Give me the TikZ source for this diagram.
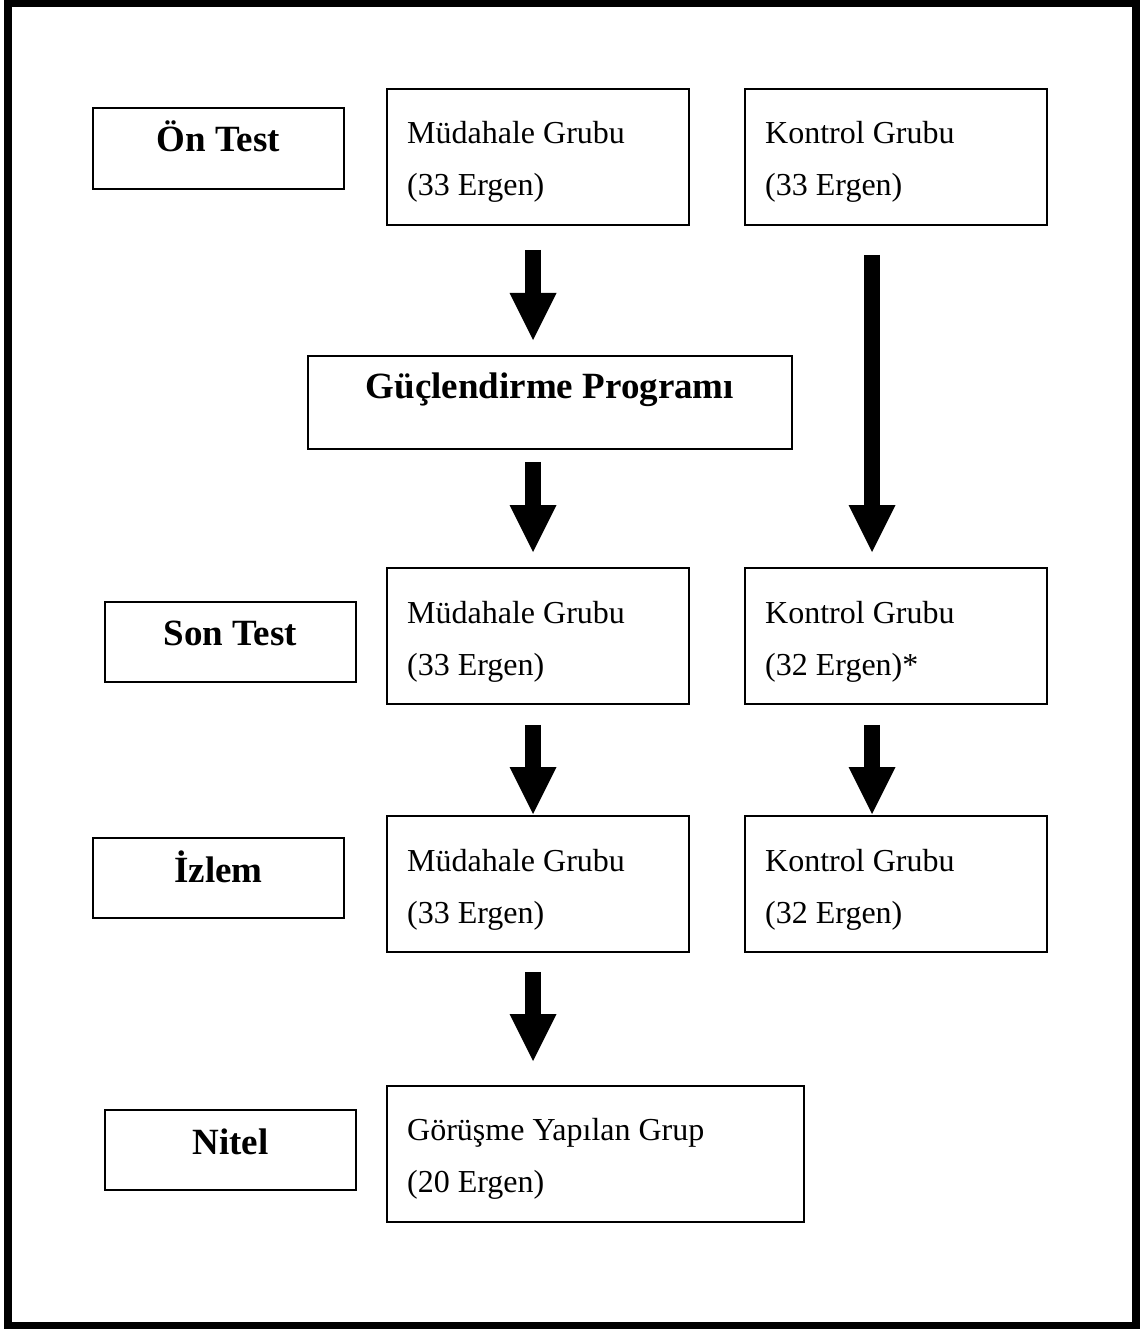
\documentclass[tikz,border=0pt]{standalone}
\usepackage{fontspec}
\setmainfont{Liberation Serif}
\usetikzlibrary{arrows.meta}
\begin{document}
\begin{tikzpicture}[x=1pt,y=-1pt,
  box/.style={draw, line width=1.8pt, inner sep=0pt, anchor=north west},
  txt/.style={inner sep=0pt, anchor=base west, font=\fontsize{32pt}{38pt}\selectfont},
  btxt/.style={inner sep=0pt, anchor=base, font=\fontsize{37pt}{44pt}\selectfont\bfseries},
  bigarrow/.style={line width=16pt, -{Triangle[length=47pt,width=47pt,line width=0pt]}}]
\useasboundingbox (0,0) rectangle (1143,1329);
\draw[line width=8pt] (7.5,3.5) rectangle (1136,1325.5);
\coordinate (colL) at (533,0);
\coordinate (colR) at (872,0);
% boxes
\node[box, minimum width=251pt, minimum height=81pt] (on) at (92,107) {};
\node[box, minimum width=302pt, minimum height=136pt] (m1) at (386,88) {};
\node[box, minimum width=302pt, minimum height=136pt] (k1) at (744,88) {};
\node[box, minimum width=484pt, minimum height=93pt] (gp) at (307,355) {};
\node[box, minimum width=251pt, minimum height=80pt] (son) at (104,601) {};
\node[box, minimum width=302pt, minimum height=136pt] (m2) at (386,567) {};
\node[box, minimum width=302pt, minimum height=136pt] (k2) at (744,567) {};
\node[box, minimum width=251pt, minimum height=80pt] (izl) at (92,837) {};
\node[box, minimum width=302pt, minimum height=136pt] (m3) at (386,815) {};
\node[box, minimum width=302pt, minimum height=136pt] (k3) at (744,815) {};
\node[box, minimum width=251pt, minimum height=80pt] (nit) at (104,1109) {};
\node[box, minimum width=417pt, minimum height=136pt] (gor) at (386,1085) {};
% bold labels
\node[btxt] (onT) at ([shift={(0,45)}]on.north) {Ön Test};
\node[btxt] (gpT) at ([shift={(0,43)}]gp.north) {Güçlendirme Programı};
\node[btxt] (sonT) at ([shift={(0,44)}]son.north) {Son Test};
\node[btxt] (izlT) at ([shift={(0,45)}]izl.north) {İzlem};
\node[btxt] (nitT) at ([shift={(0,45)}]nit.north) {Nitel};
% group texts
\node[txt] (m1a) at ([shift={(21,56)}]m1.north west) {Müdahale Grubu};
\node[txt] (m1b) at ([shift={(21,108)}]m1.north west) {(33 Ergen)};
\node[txt] (k1a) at ([shift={(21,56)}]k1.north west) {Kontrol Grubu};
\node[txt] (k1b) at ([shift={(21,108)}]k1.north west) {(33 Ergen)};
\node[txt] (m2a) at ([shift={(21,56)}]m2.north west) {Müdahale Grubu};
\node[txt] (m2b) at ([shift={(21,108)}]m2.north west) {(33 Ergen)};
\node[txt] (k2a) at ([shift={(21,56)}]k2.north west) {Kontrol Grubu};
\node[txt] (k2b) at ([shift={(21,108)}]k2.north west) {(32 Ergen)*};
\node[txt] (m3a) at ([shift={(21,56)}]m3.north west) {Müdahale Grubu};
\node[txt] (m3b) at ([shift={(21,108)}]m3.north west) {(33 Ergen)};
\node[txt] (k3a) at ([shift={(21,56)}]k3.north west) {Kontrol Grubu};
\node[txt] (k3b) at ([shift={(21,108)}]k3.north west) {(32 Ergen)};
\node[txt] (gora) at ([shift={(21,55)}]gor.north west) {Görüşme Yapılan Grup};
\node[txt] (gorb) at ([shift={(21,107)}]gor.north west) {(20 Ergen)};
% arrows
\draw[bigarrow, shorten <=24pt, shorten >=15pt] (m1.south -| colL) -- (gp.north -| colL);
\draw[bigarrow, shorten <=12pt, shorten >=15pt] (gp.south -| colL) -- (m2.north -| colL);
\draw[bigarrow, shorten <=29pt, shorten >=15pt] (k1.south -| colR) -- (k2.north -| colR);
\draw[bigarrow, shorten <=20pt, shorten >=1pt] (m2.south -| colL) -- (m3.north -| colL);
\draw[bigarrow, shorten <=20pt, shorten >=1pt] (k2.south -| colR) -- (k3.north -| colR);
\draw[bigarrow, shorten <=19pt, shorten >=24pt] (m3.south -| colL) -- (gor.north -| colL);
\end{tikzpicture}
\end{document}
